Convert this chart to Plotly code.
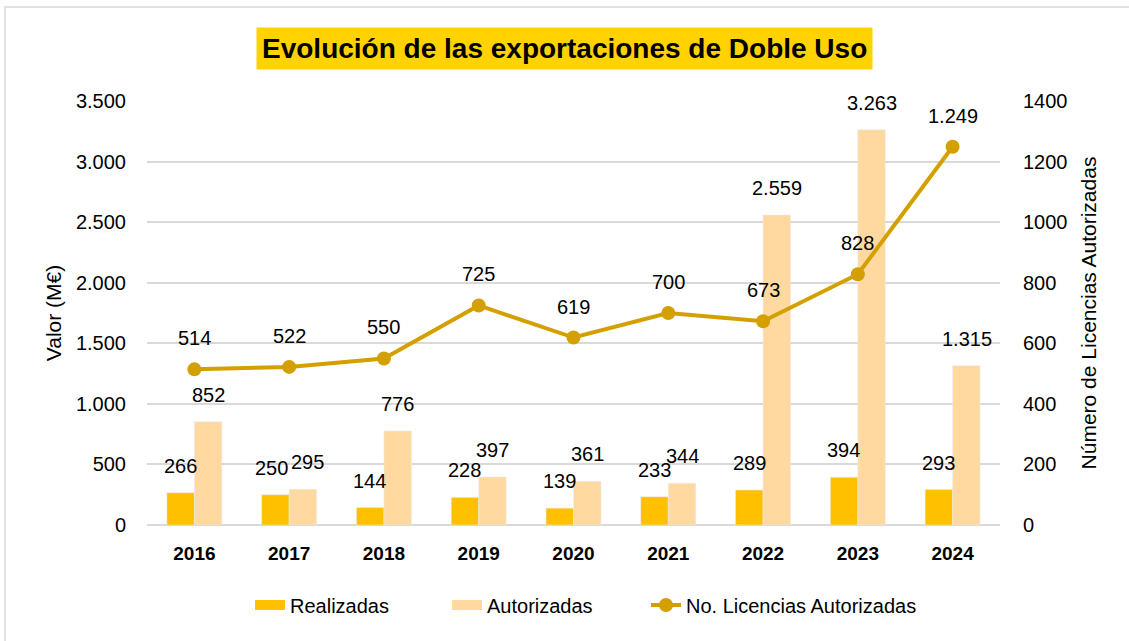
import plotly.graph_objects as go

years = ["2016", "2017", "2018", "2019", "2020", "2021", "2022", "2023", "2024"]
realizadas = [266, 250, 144, 228, 139, 233, 289, 394, 293]
autorizadas = [852, 295, 776, 397, 361, 344, 2559, 3263, 1315]
licencias = [514, 522, 550, 725, 619, 700, 673, 828, 1249]

W, H = 1129, 641
L, R, T, B = 147, 129, 101, 116
PW, PH = W - L - R, H - T - B

FONT = "Liberation Sans, Arial, sans-serif"
C_REAL = "#FFC000"
C_AUT = "#FFD9A0"
C_LINE = "#D4A000"
NUM = 20


def fmt(v):
    return f"{v:,}".replace(",", ".")


fig = go.Figure()
fig.add_trace(go.Bar(x=years, y=realizadas, name="Realizadas", marker_color=C_REAL,
                     offsetgroup="a", showlegend=False))
fig.add_trace(go.Bar(x=years, y=autorizadas, name="Autorizadas", marker_color=C_AUT,
                     offsetgroup="b", showlegend=False))
fig.add_trace(go.Scatter(x=years, y=licencias, name="No. Licencias Autorizadas", yaxis="y2",
                         mode="lines+markers", line=dict(color=C_LINE, width=4),
                         marker=dict(color=C_LINE, size=14), showlegend=False))
# legend entries (wide swatches like the original), one legend each for placement
fig.add_trace(go.Scatter(x=[None], y=[None], name="Realizadas", mode="lines",
                         line=dict(color=C_REAL, width=11), legend="legend"))
fig.add_trace(go.Scatter(x=[None], y=[None], name="Autorizadas", mode="lines",
                         line=dict(color=C_AUT, width=11), legend="legend2"))
fig.add_trace(go.Scatter(x=[None], y=[None], name="No. Licencias Autorizadas", mode="lines+markers",
                         line=dict(color=C_LINE, width=4), marker=dict(color=C_LINE, size=14),
                         legend="legend3"))

annotations = []
for i, yr in enumerate(years):
    sep = 18 if abs(realizadas[i] - autorizadas[i]) < 60 else 14
    annotations.append(dict(x=i, y=realizadas[i], xref="x", yref="y", text=fmt(realizadas[i]),
                            showarrow=False, xshift=-sep, yshift=27, yanchor="middle",
                            font=dict(size=NUM, color="#000", family=FONT)))
    annotations.append(dict(x=i, y=autorizadas[i], xref="x", yref="y", text=fmt(autorizadas[i]),
                            showarrow=False, xshift=sep, yshift=27, yanchor="middle",
                            font=dict(size=NUM, color="#000", family=FONT)))
    annotations.append(dict(x=i, y=licencias[i], xref="x", yref="y2", text=fmt(licencias[i]),
                            showarrow=False, yshift=31, yanchor="middle",
                            font=dict(size=NUM, color="#000", family=FONT)))

annotations.append(dict(x=(564 - L) / PW, y=(H - B - 48) / PH, xref="paper", yref="paper",
                        xanchor="center", yanchor="middle",
                        text="<b>Evolución de las exportaciones de Doble Uso</b>",
                        showarrow=False, bgcolor="#FFD200", borderpad=5,
                        font=dict(size=28, color="#000", family=FONT)))

LEG_Y = -(605 - (H - B)) / PH
leg_common = dict(orientation="h", xanchor="left", y=LEG_Y, yanchor="middle",
                  font=dict(size=20, family=FONT), bgcolor="rgba(0,0,0,0)")

fig.update_layout(
    width=W, height=H,
    margin=dict(l=L, r=R, t=T, b=B),
    paper_bgcolor="white", plot_bgcolor="white",
    font=dict(family=FONT, color="#000", size=NUM),
    barmode="group", bargap=0.42, bargroupgap=0,
    showlegend=True,
    legend=dict(x=(250 - L) / PW, **leg_common),
    legend2=dict(x=(447 - L) / PW, **leg_common),
    legend3=dict(x=(646 - L) / PW, **leg_common),
    xaxis=dict(type="category", range=[-0.5, len(years) - 0.5], autorange=False,
               tickfont=dict(size=19, family=FONT), ticks="", showgrid=False,
               tickprefix="<b>", ticksuffix="</b>", ticklabelstandoff=15,
               showline=False),
    yaxis=dict(range=[0, 3500], dtick=500, tickformat=",d",
               gridcolor="#D9D9D9", gridwidth=1.5, zeroline=True, zerolinecolor="#D9D9D9",
               zerolinewidth=1.5, ticks="", ticklabelstandoff=20,
               title=dict(text="Valor (M€)", font=dict(size=21, family=FONT), standoff=8),
               tickfont=dict(size=NUM, family=FONT)),
    yaxis2=dict(range=[0, 1400], dtick=200, overlaying="y", side="right", showgrid=False,
                zeroline=False, ticks="", ticklabelstandoff=22, tickformat="d",
                title=dict(text="Número de Licencias Autorizadas", font=dict(size=21, family=FONT),
                           standoff=14),
                tickfont=dict(size=NUM, family=FONT)),
    separators=",.",
    annotations=annotations,
    shapes=[dict(type="rect", xref="paper", yref="paper",
                 x0=(5 - L) / PW, x1=(1135 - L) / PW,
                 y0=(H - B - 650) / PH, y1=(H - B - 7) / PH,
                 line=dict(color="#D9D9D9", width=1.5), layer="below")],
)

fig.write_html("out.html", config={"displayModeBar": False},
               post_script="document.body.style.margin='0';")
